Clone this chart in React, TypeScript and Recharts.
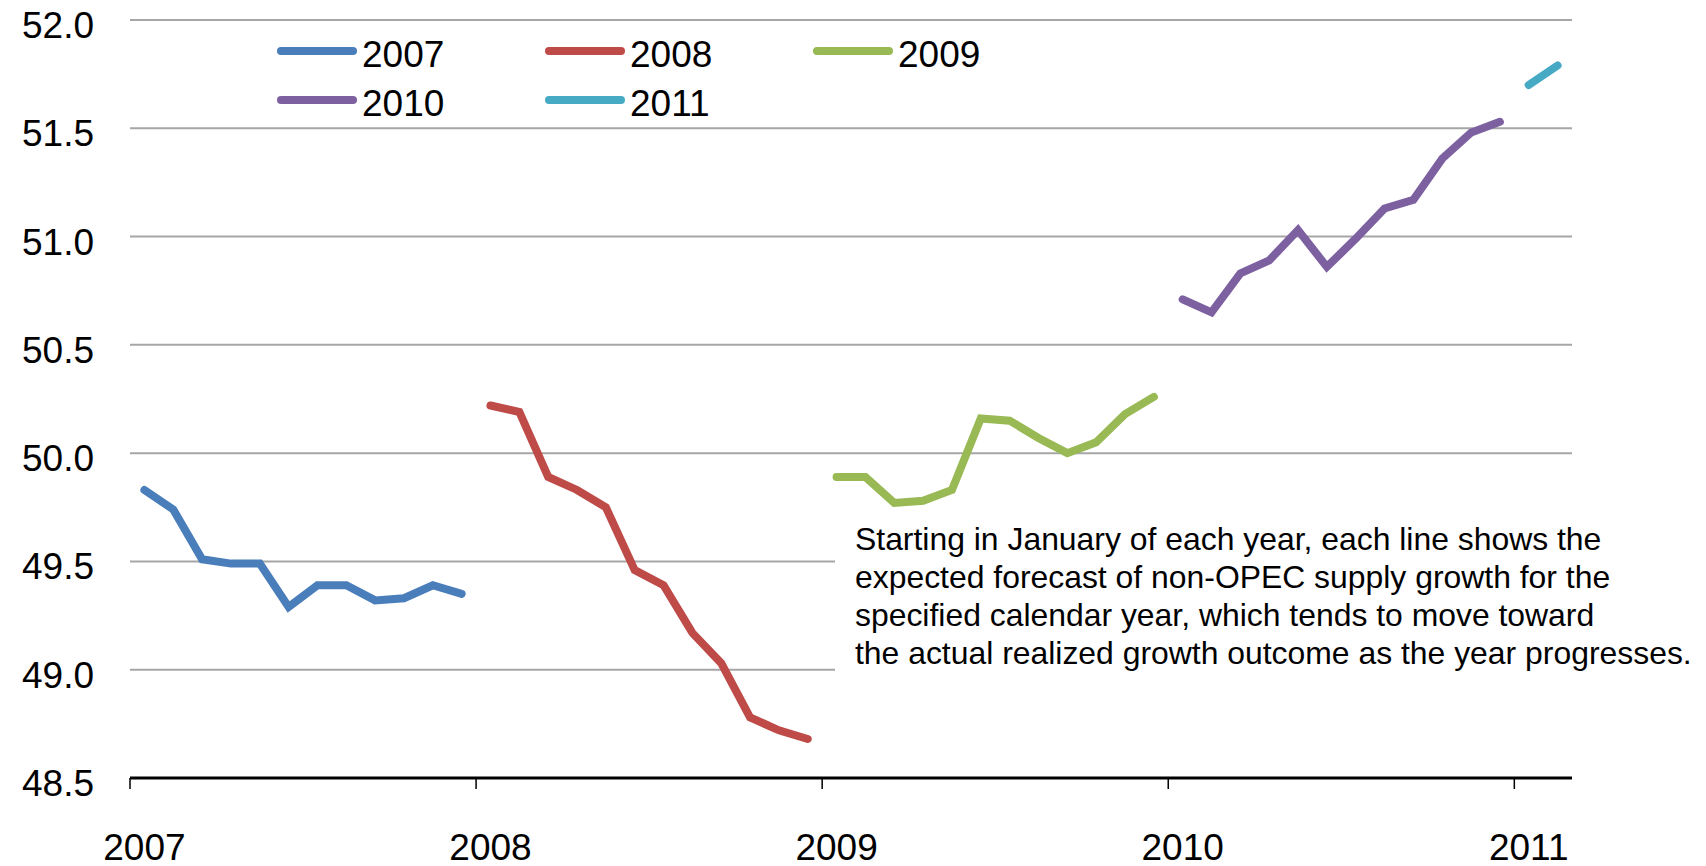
import { CartesianGrid, Legend, Line, LineChart, XAxis, YAxis } from "recharts";

const FONT = "'Liberation Sans', Arial, sans-serif";

// monthly forecasts of non-OPEC supply, one array per forecast year
const F2007 = [49.83, 49.74, 49.51, 49.49, 49.49, 49.29, 49.39, 49.39, 49.32, 49.33, 49.39, 49.35];
const F2008 = [50.22, 50.19, 49.89, 49.83, 49.75, 49.46, 49.39, 49.17, 49.03, 48.78, 48.72, 48.68];
const F2009 = [49.89, 49.89, 49.77, 49.78, 49.83, 50.16, 50.15, 50.07, 50.0, 50.05, 50.18, 50.26];
const F2010 = [50.71, 50.65, 50.83, 50.89, 51.03, 50.86, 50.99, 51.13, 51.17, 51.36, 51.48, 51.53];
const F2011 = [51.7, 51.79];

const MONTH_COUNT = 50; // Jan 2007 .. Feb 2011
const TICK_MONTHS = [0, 12, 24, 36, 48];
const TICK_YEARS = ["2007", "2008", "2009", "2010", "2011"];
const Y_TICKS = [48.5, 49, 49.5, 50, 50.5, 51, 51.5, 52];

const SERIES = [
  { name: "2007", start: 0, values: F2007, color: "#4A7EBB" },
  { name: "2008", start: 12, values: F2008, color: "#BE4B48" },
  { name: "2009", start: 24, values: F2009, color: "#98B954" },
  { name: "2010", start: 36, values: F2010, color: "#7D60A0" },
  { name: "2011", start: 48, values: F2011, color: "#46AAC5" },
];

const NOTE = [
  "Starting in January of each year, each line shows the",
  "expected forecast of non-OPEC supply growth for the",
  "specified calendar year, which tends to move toward",
  "the actual realized growth outcome as the year progresses.",
];

const data = Array.from({ length: MONTH_COUNT }, (_, i) => {
  const row: Record<string, number | null> = { m: i + 0.5 };
  for (const s of SERIES) {
    const v = s.values[i - s.start];
    row[s.name] = v === undefined ? null : v;
  }
  return row;
});

const PLOT_LEFT = 130;
const PLOT_RIGHT = 1572;
const MONTH_W = (PLOT_RIGHT - PLOT_LEFT) / MONTH_COUNT;

function YearTick({ x, y, payload }: any) {
  const label = TICK_YEARS[TICK_MONTHS.indexOf(payload.value)];
  return (
    <text x={x + MONTH_W / 2} y={y} dy={71} textAnchor="middle" fill="#000" fontSize={37} fontFamily={FONT}>
      {label}
    </text>
  );
}

function ValueTick({ x, y, payload }: any) {
  return (
    <text x={x} y={y} dy={18} textAnchor="end" fill="#000" fontSize={37} fontFamily={FONT}>
      {payload.value.toFixed(1)}
    </text>
  );
}

function YearLegend() {
  return (
    <div style={{ position: "relative", width: 700, height: 100, fontFamily: FONT, fontSize: 37 }}>
      {SERIES.map((s, i) => (
        <div
          key={s.name}
          style={{
            position: "absolute",
            left: (i % 3) * 268,
            top: Math.floor(i / 3) * 48.5,
            height: 44,
            display: "flex",
            alignItems: "center",
            whiteSpace: "nowrap",
          }}
        >
          <svg width={80} height={12} style={{ display: "block" }}>
            <line x1={4} y1={6} x2={76} y2={6} stroke={s.color} strokeWidth={8} strokeLinecap="round" />
          </svg>
          <span style={{ marginLeft: 5, lineHeight: "44px", position: "relative", top: 4, color: "#000" }}>{s.name}</span>
        </div>
      ))}
    </div>
  );
}

export default function App() {
  return (
    <div style={{ position: "absolute", left: 0, top: 0, width: 1706, height: 866, background: "#fff" }}>
      <LineChart width={1706} height={866} data={data} margin={{ top: 20, right: 134, left: 0, bottom: 0 }}>
        <CartesianGrid stroke="#A6A6A6" strokeWidth={2} vertical={false} />
        <XAxis
          dataKey="m"
          type="number"
          domain={[0, MONTH_COUNT]}
          ticks={TICK_MONTHS}
          height={88}
          tickSize={11}
          tickMargin={0}
          axisLine={{ stroke: "#000", strokeWidth: 3 }}
          tickLine={{ stroke: "#000", strokeWidth: 1.5 }}
          tick={<YearTick />}
          interval={0}
        />
        <YAxis
          type="number"
          domain={[48.5, 52]}
          ticks={Y_TICKS}
          width={130}
          tickSize={0}
          tickMargin={36}
          axisLine={false}
          tickLine={false}
          tick={<ValueTick />}
          interval={0}
        />
        <Legend
          verticalAlign="middle"
          align="center"
          layout="horizontal"
          content={<YearLegend />}
          wrapperStyle={{ position: "absolute", left: 277, top: 29, width: 700, height: 100, margin: 0, padding: 0 }}
        />
        {SERIES.map((s) => (
          <Line
            key={s.name}
            type="linear"
            dataKey={s.name}
            stroke={s.color}
            strokeWidth={8}
            strokeLinecap="round"
            dot={false}
            activeDot={false}
            connectNulls={false}
            isAnimationActive={false}
          />
        ))}
      </LineChart>
      <div
        style={{
          position: "absolute",
          left: 835,
          top: 514,
          width: 851,
          height: 170,
          paddingLeft: 20,
          paddingTop: 6,
          background: "#fff",
          fontFamily: FONT,
          fontSize: 31.9,
          lineHeight: "38px",
          color: "#000",
          whiteSpace: "nowrap",
        }}
      >
        {NOTE.map((line) => (
          <div key={line}>{line}</div>
        ))}
      </div>
    </div>
  );
}
